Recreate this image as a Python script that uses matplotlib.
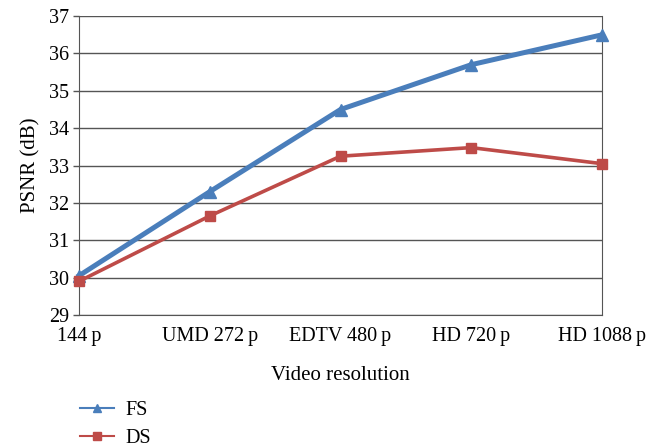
import numpy as np
import matplotlib.pyplot as plt

resolutions = ['144\u2009p', 'UMD 272\u2009p', 'EDTV 480\u2009p', 'HD 720\u2009p', 'HD 1088\u2009p']
fs = [30.05, 32.3, 34.5, 35.7, 36.5]
ds = [29.9, 31.65, 33.25, 33.48, 33.05]

plt.rcParams['font.family'] = ['Liberation Serif', 'DejaVu Serif']

fig = plt.figure(figsize=(6.55, 4.48), dpi=100)
ax = fig.add_axes([0.1206, 0.297, 0.7985, 0.667])

x = np.arange(len(resolutions))
ax.plot(x, fs, color='#4A7EBB', lw=3.6, marker='^', ms=8, label='FS', zorder=3, clip_on=False)
ax.plot(x, ds, color='#BE4B48', lw=2.6, marker='s', ms=7, label='DS', zorder=3, clip_on=False)

ax.set_xlim(0, len(resolutions) - 1)
ax.set_ylim(29, 37)
ax.set_yticks(range(29, 38))
ax.set_xticks(x)
ax.set_xticklabels(resolutions)
ax.tick_params(axis='x', length=0, pad=9, labelsize=14.5)
ax.tick_params(axis='y', length=4, width=1, color='#555555', pad=3, labelsize=14.5)
ax.grid(axis='y', color='#555555', lw=1)
ax.set_axisbelow(True)
for s in ['left', 'right', 'bottom']:
    ax.spines[s].set_color('#555555')
ax.spines['top'].set_visible(False)

ax.set_ylabel('PSNR (dB)', fontsize=15, labelpad=6)
ax.set_xlabel('Video resolution', fontsize=15, labelpad=14)

handles, labels = ax.get_legend_handles_labels()
leg = fig.legend(handles, labels, loc='upper left', bbox_to_anchor=(80 / 655, 1 - 401 / 448),
                 frameon=False, fontsize=14.5, handlelength=1.7, handletextpad=0.55,
                 labelspacing=0.45, borderpad=0, borderaxespad=0)
for line in leg.get_lines():
    line.set_linewidth(1.5)
    line.set_markersize(6)

fig.savefig('out.png', dpi=100)
